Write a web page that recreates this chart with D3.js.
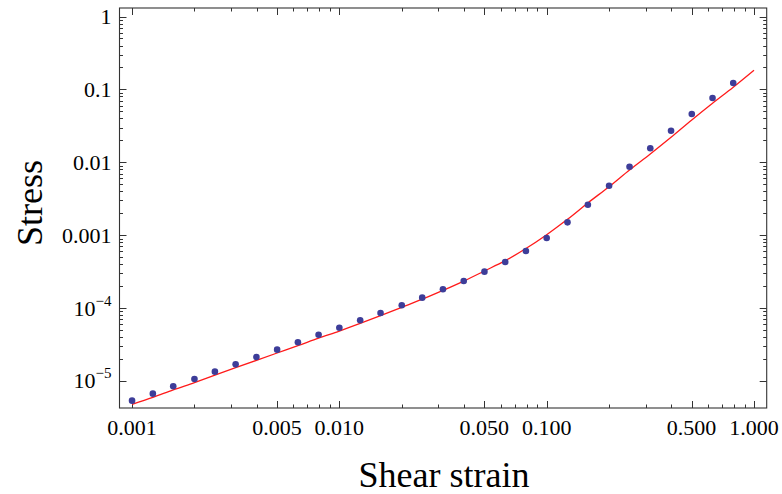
<!DOCTYPE html>
<html>
<head>
<meta charset="utf-8">
<script src="https://cdn.jsdelivr.net/npm/d3@7"></script>
<style>
  body { margin: 0; background: #fff; }
  svg text { font-family: "Liberation Serif", "DejaVu Serif", serif; fill: #000; }
</style>
</head>
<body>
<div id="graph"></div>
<script>
// measured points
var strain = [0.001, 0.00126, 0.00158, 0.002, 0.00251, 0.00316, 0.00398, 0.00501, 0.00631, 0.00794,
  0.01, 0.0126, 0.0158, 0.02, 0.0251, 0.0316, 0.0398, 0.0501, 0.0631, 0.0794,
  0.1, 0.126, 0.158, 0.2, 0.251, 0.316, 0.398, 0.501, 0.631, 0.794];
var stress = [5.37e-6, 6.70e-6, 8.46e-6, 1.064e-5, 1.342e-5, 1.69e-5, 2.13e-5, 2.69e-5, 3.40e-5, 4.31e-5,
  5.38e-5, 6.81e-5, 8.57e-5, 1.092e-4, 1.39e-4, 1.81e-4, 2.35e-4, 3.16e-4, 4.29e-4, 6.07e-4,
  9.16e-4, 1.50e-3, 2.62e-3, 4.77e-3, 8.70e-3, 1.56e-2, 2.71e-2, 4.60e-2, 7.62e-2, 0.1224];

// fitted curve (red)
var fitStrain = strain.concat([1.0]);
var fitStress = [4.78e-6, 5.96e-6, 7.55e-6, 9.51e-6, 1.201e-5, 1.52e-5, 1.92e-5, 2.42e-5, 3.05e-5, 3.87e-5,
  4.84e-5, 6.15e-5, 7.87e-5, 1.026e-4, 1.324e-4, 1.75e-4, 2.35e-4, 3.23e-4, 4.47e-4, 6.56e-4,
  1.016e-3, 1.65e-3, 2.77e-3, 4.63e-3, 7.84e-3, 1.30e-2, 2.20e-2, 3.80e-2, 6.44e-2, 0.1069, 0.1828];

var xMajor = [0.001, 0.005, 0.01, 0.05, 0.1, 0.5, 1];
var yMajor = [1e-5, 1e-4, 1e-3, 1e-2, 1e-1, 1];
var yLabels = [["10", "\u22125"], ["10", "\u22124"], ["0.001"], ["0.01"], ["0.1"], ["1"]];

var width = 782, height = 494;
var margin = { top: 8, right: 15.3, bottom: 86, left: 119.5 };

var x = d3.scaleLog().domain([8.7e-4, 1.1515]).range([margin.left, width - margin.right]);
var y = d3.scaleLog().domain([4.26e-6, 1.308]).range([height - margin.bottom, margin.top]);

var svg = d3.select("#graph").append("svg")
  .attr("width", width)
  .attr("height", height);

// minor tick values: 2..9 times each decade
var xMinor = [], yMinor = [];
[0.001, 0.01, 0.1].forEach(function (d) {
  for (var m = 2; m <= 9; m++) if (m !== 5) xMinor.push(d * m);
});
[1e-5, 1e-4, 1e-3, 1e-2, 1e-1].forEach(function (d) {
  for (var m = 2; m <= 9; m++) yMinor.push(d * m);
});

var x0 = margin.left, x1 = width - margin.right;
var y0 = height - margin.bottom, y1 = margin.top;
var tickCol = "#333";

var ticks = svg.append("g").attr("class", "ticks")
  .attr("stroke", tickCol).attr("stroke-width", 1);

function xTicks(vals, len) {
  vals.forEach(function (v) {
    var px = Math.round(x(v)) + 0.5;
    ticks.append("line").attr("x1", px).attr("x2", px).attr("y1", y0).attr("y2", y0 - len);
    ticks.append("line").attr("x1", px).attr("x2", px).attr("y1", y1).attr("y2", y1 + len);
  });
}
function yTicks(vals, len) {
  vals.forEach(function (v) {
    var py = Math.round(y(v)) + 0.5;
    ticks.append("line").attr("y1", py).attr("y2", py).attr("x1", x0).attr("x2", x0 + len);
    ticks.append("line").attr("y1", py).attr("y2", py).attr("x1", x1).attr("x2", x1 - len);
  });
}
xTicks(xMajor, 7);
xTicks(xMinor, 3.5);
yTicks(yMajor, 7);
yTicks(yMinor, 3.5);

// frame
svg.append("rect")
  .attr("x", x0).attr("y", y1)
  .attr("width", x1 - x0).attr("height", y0 - y1)
  .attr("fill", "none").attr("stroke", tickCol).attr("stroke-width", 1.1);

// x tick labels
var fmt = d3.format(".3f");
svg.append("g").selectAll("text")
  .data(xMajor)
  .enter().append("text")
  .attr("x", function (d) { return x(d); })
  .attr("y", 435)
  .attr("text-anchor", "middle")
  .attr("font-size", 22)
  .text(function (d) { return fmt(d); });

// y tick labels
var yl = svg.append("g").selectAll("text")
  .data(yMajor)
  .enter().append("text")
  .attr("x", x0 - 8)
  .attr("y", function (d) { return y(d) + 7.5; })
  .attr("text-anchor", "end")
  .attr("font-size", 22);
yl.each(function (d, i) {
  var t = d3.select(this), lab = yLabels[i];
  t.append("tspan").text(lab[0]);
  if (lab[1]) {
    t.append("tspan").attr("dy", -10).attr("font-size", 15).text(lab[1]);
  }
});

// fitted line
var line = d3.line()
  .x(function (d, i) { return x(fitStrain[i]); })
  .y(function (d) { return y(d); })
  .curve(d3.curveMonotoneX);

svg.append("path")
  .datum(fitStress)
  .attr("d", line)
  .attr("fill", "none")
  .attr("stroke", "#ff1a1a")
  .attr("stroke-width", 1.3);

// points
svg.append("g").selectAll("circle")
  .data(stress)
  .enter().append("circle")
  .attr("cx", function (d, i) { return x(strain[i]); })
  .attr("cy", function (d) { return y(d); })
  .attr("r", 3.3)
  .attr("fill", "#3d3d99");

// axis titles
svg.append("text")
  .attr("x", 444)
  .attr("y", 487)
  .attr("text-anchor", "middle")
  .attr("font-size", 36)
  .text("Shear strain");

svg.append("text")
  .attr("transform", "translate(42,203) rotate(-90)")
  .attr("text-anchor", "middle")
  .attr("font-size", 36)
  .text("Stress");
</script>
</body>
</html>
